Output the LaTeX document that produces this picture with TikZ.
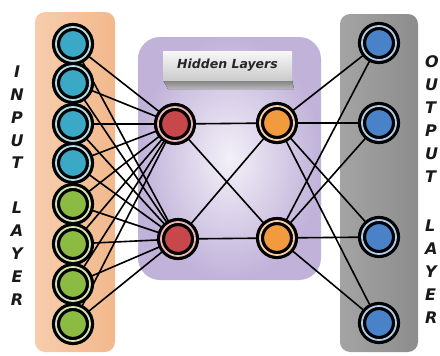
\documentclass[tikz,border=0pt]{standalone}
\usepackage{fontspec}
\setmainfont{DejaVu Sans}
\pgfdeclarelayer{panels}
\pgfdeclarelayer{links}
\pgfsetlayers{panels,links,main}

\definecolor{cyanfill}{HTML}{3BA9C6}
\definecolor{cyanring}{HTML}{B4DCE4}
\definecolor{greenfill}{HTML}{8CBB44}
\definecolor{greenring}{HTML}{D4E4AE}
\definecolor{redfill}{HTML}{C8474A}
\definecolor{redring}{HTML}{EBB4B4}
\definecolor{orangefill}{HTML}{F29A3E}
\definecolor{orangering}{HTML}{F6CDA6}
\definecolor{bluefill}{HTML}{4A82C9}
\definecolor{bluering}{HTML}{AECBEA}
\definecolor{inleft}{HTML}{F7CDAC}
\definecolor{inmid}{HTML}{FBE3D0}
\definecolor{inright}{HTML}{F2B88C}
\definecolor{hidin}{HTML}{F3F0F8}
\definecolor{hidout}{HTML}{C0B2D9}
\definecolor{outleft}{HTML}{A4A4A4}
\definecolor{outmid}{HTML}{E0E0E0}
\definecolor{outright}{HTML}{8C8C8C}

\tikzset{
  neuron/.style 2 args={circle, minimum size=34pt, inner sep=0pt,
    draw=black, line width=3.2pt, double=#2, double distance=1.8pt, fill=#1},
  link/.style={draw=black, line width=1.6pt},
  sideletter/.style={font=\bfseries\itshape\fontsize{16}{16}\selectfont,
    inner sep=0pt, text=black!90},
  inpanel/.style={rounded corners=10pt, left color=inleft,
    middle color=inmid, right color=inright},
  hidpanel/.style={rounded corners=22pt, inner color=hidin,
    outer color=hidout},
  outpanel/.style={rounded corners=10pt, left color=outleft,
    middle color=outmid, right color=outright},
  labelbox/.style={minimum width=129pt, minimum height=29pt, inner sep=0pt,
    top color=black!3, bottom color=black!20,
    font=\bfseries\itshape\fontsize{12.5}{12.5}\selectfont, text=black!85},
}

\begin{document}
\begin{tikzpicture}[x=1pt,y=-1pt]
\useasboundingbox (0,0) rectangle (440,356);

% layer panels
\begin{pgfonlayer}{panels}
\path[inpanel] (35,12) rectangle (115,352);
\path[hidpanel] (138,37) rectangle (321,280);
\path[outpanel] (340,14) rectangle (418,352);
\end{pgfonlayer}

% title bar with its extruded bottom face
\fill[top color=black!50, bottom color=black!28]
  (163,80) -- (292,80) -- (294,89) -- (168,89) -- cycle;
\node[labelbox] (title) at (227.5,65.5) {Hidden Layers};

% input neurons
\foreach \y [count=\i] in {44,83,124,163} {
  \node[neuron={cyanfill}{cyanring}] (in\i) at (73,\y) {};
}
\foreach \y [count=\i from 5] in {204,244,284,324} {
  \node[neuron={greenfill}{greenring}] (in\i) at (73,\y) {};
}

% hidden neurons
\node[neuron={redfill}{redring}] (ha1) at (175,124) {};
\node[neuron={redfill}{redring}] (ha2) at (178,239) {};
\node[neuron={orangefill}{orangering}] (hb1) at (277,123) {};
\node[neuron={orangefill}{orangering}] (hb2) at (277,238) {};

% output neurons
\foreach \y [count=\i] in {43,123,237,323} {
  \node[neuron={bluefill}{bluering}] (out\i) at (379,\y) {};
}

% connections
\begin{pgfonlayer}{links}
  \foreach \i in {1,...,8} {
    \foreach \j in {1,2} {
      \draw[link] (in\i.center) -- (ha\j.center);
    }
  }
  \foreach \i in {1,2} {
    \foreach \j in {1,2} {
      \draw[link] (ha\i.center) -- (hb\j.center);
    }
  }
  \foreach \i in {1,2} {
    \foreach \j in {1,...,4} {
      \draw[link] (hb\i.center) -- (out\j.center);
    }
  }
\end{pgfonlayer}

% side captions
\foreach \l/\y [count=\k] in {I/72,N/95,P/118,U/141,T/163,L/208,A/231,Y/254,E/277,R/300} {
  \node[sideletter] (lin\k) at (17,\y) {\l};
}
\foreach \l/\y [count=\k] in {O/62,U/85,T/108,P/131,U/154,T/177,L/226,A/249,Y/272,E/295,R/318} {
  \node[sideletter, anchor=west] (lout\k) at (425,\y) {\l};
}
\end{tikzpicture}
\end{document}
